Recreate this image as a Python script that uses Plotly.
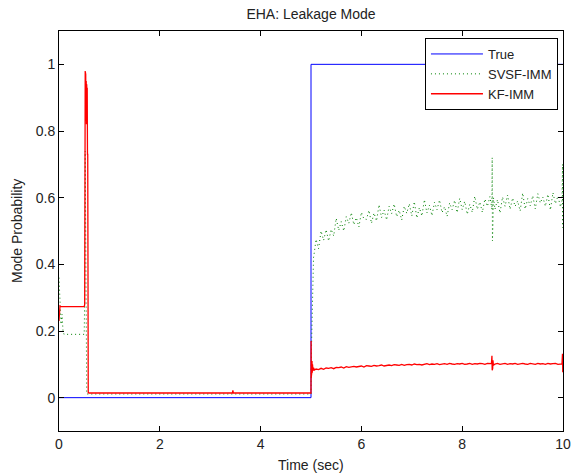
import plotly.graph_objects as go

# ---------------- data ----------------
true_t = [0, 5, 5, 10]
true_y = [0, 0, 1, 1]

kf_t = [0.00, 0.01, 0.02, 0.04, 0.50, 0.51, 0.515, 0.52, 0.525, 0.53, 0.535, 0.54,
        0.545, 0.55, 0.555, 0.56, 0.565, 0.57, 0.575, 0.58, 0.60, 1.0, 2.0, 3.0,
        3.44, 3.45, 3.46, 4.0, 4.99,
        5.00, 5.002, 5.004, 5.006, 5.008, 5.01, 5.015, 5.02, 5.025, 5.03, 5.04,
        5.05, 5.07,
        5.10, 5.15, 5.20, 5.25, 5.30, 5.35, 5.40, 5.45, 5.50, 5.55, 5.60, 5.65,
        5.70, 5.75, 5.80, 5.85, 5.90, 5.95, 6.00, 6.05, 6.10, 6.15, 6.20, 6.25,
        6.30, 6.35, 6.40, 6.45, 6.50, 6.55, 6.60, 6.65, 6.70, 6.75, 6.80, 6.85,
        6.90, 6.95, 7.00, 7.05, 7.10, 7.15, 7.20, 7.25, 7.30, 7.35, 7.40, 7.45,
        7.50, 7.55, 7.60, 7.65, 7.70, 7.75, 7.80, 7.85, 7.90, 7.95, 8.00, 8.05,
        8.10, 8.15, 8.20, 8.25, 8.30, 8.35, 8.40, 8.45, 8.50, 8.55, 8.58, 8.59,
        8.595, 8.60, 8.605, 8.61, 8.62, 8.65, 8.70, 8.75, 8.80, 8.85, 8.90, 8.95,
        9.00, 9.05, 9.10, 9.15, 9.20, 9.25, 9.30, 9.35, 9.40, 9.45, 9.50, 9.55,
        9.60, 9.65, 9.70, 9.75, 9.80, 9.85, 9.90, 9.95, 9.98, 9.99, 9.995, 10.0]
kf_p = [0.23, 0.27, 0.275, 0.273, 0.273, 0.28, 0.60, 0.98, 0.85, 0.97, 0.83, 0.95,
        0.82, 0.94, 0.88, 0.93, 0.73, 0.73, 0.40, 0.015, 0.014, 0.014, 0.014, 0.014,
        0.014, 0.022, 0.014, 0.014, 0.014,
        0.014, 0.17, 0.06, 0.15, 0.07, 0.13, 0.075, 0.11, 0.075, 0.10, 0.08,
        0.09, 0.083,
        0.086, 0.084, 0.088, 0.085, 0.089, 0.088, 0.090, 0.087, 0.091, 0.090, 0.092, 0.089,
        0.093, 0.091, 0.092, 0.094, 0.092, 0.093, 0.095, 0.092, 0.096, 0.095, 0.094, 0.097,
        0.095, 0.096, 0.098, 0.095, 0.097, 0.098, 0.096, 0.099, 0.098, 0.097, 0.100, 0.097,
        0.099, 0.100, 0.098, 0.101, 0.099, 0.100, 0.098, 0.101, 0.102, 0.099, 0.101, 0.100,
        0.102, 0.099, 0.101, 0.102, 0.100, 0.103, 0.101, 0.100, 0.102, 0.101, 0.103, 0.100,
        0.101, 0.103, 0.100, 0.102, 0.101, 0.103, 0.102, 0.100, 0.103, 0.101, 0.102, 0.126,
        0.082, 0.120, 0.088, 0.112, 0.097, 0.101, 0.103, 0.100, 0.102, 0.103, 0.100, 0.102,
        0.101, 0.103, 0.100, 0.102, 0.103, 0.101, 0.100, 0.103, 0.102, 0.100, 0.103, 0.101,
        0.102, 0.100, 0.103, 0.101, 0.102, 0.103, 0.100, 0.102, 0.101, 0.132, 0.076, 0.120]

svsf_t = [0.00, 0.02, 0.04, 0.06, 0.08, 0.10, 0.50, 0.51, 0.52, 0.53, 0.54, 0.55,
          1.0, 2.0, 3.0, 4.0, 5.00,
          5.01, 5.02, 5.03, 5.04, 5.05, 5.07,
          5.10, 5.15, 5.20, 5.25, 5.30, 5.35, 5.40, 5.45, 5.50, 5.55,
          5.60, 5.65, 5.70, 5.75, 5.80, 5.85, 5.90, 5.95, 6.00, 6.05,
          6.10, 6.15, 6.20, 6.25, 6.30, 6.35, 6.40, 6.45, 6.50, 6.55,
          6.60, 6.65, 6.70, 6.75, 6.80, 6.85, 6.90, 6.95, 7.00, 7.05,
          7.10, 7.15, 7.20, 7.25, 7.30, 7.35, 7.40, 7.45, 7.50, 7.55,
          7.60, 7.65, 7.70, 7.75, 7.80, 7.85, 7.90, 7.95, 8.00, 8.05,
          8.10, 8.15, 8.20, 8.25, 8.30, 8.35, 8.40, 8.45, 8.50, 8.55,
          8.59, 8.595, 8.60, 8.605, 8.61, 8.62,
          8.65, 8.70, 8.75, 8.80, 8.85, 8.90, 8.95, 9.00, 9.05,
          9.10, 9.15, 9.20, 9.25, 9.30, 9.35, 9.40, 9.45, 9.50,
          9.55, 9.60, 9.65, 9.70, 9.75, 9.80, 9.85, 9.90, 9.95,
          9.98, 9.99, 9.995, 10.0]
svsf_p = [0.36, 0.30, 0.22, 0.25, 0.20, 0.19, 0.19, 0.30, 0.74, 0.50, 0.20, 0.011,
          0.011, 0.011, 0.011, 0.011, 0.011,
          0.15, 0.25, 0.34, 0.40, 0.42, 0.44,
          0.475, 0.447, 0.500, 0.472, 0.504, 0.470, 0.505, 0.485, 0.538, 0.502,
          0.528, 0.500, 0.543, 0.523, 0.555, 0.519, 0.540, 0.512, 0.556, 0.536,
          0.535, 0.562, 0.523, 0.554, 0.530, 0.579, 0.540, 0.563, 0.533, 0.574,
          0.552, 0.581, 0.543, 0.562, 0.533, 0.574, 0.553, 0.582, 0.545, 0.588,
          0.539, 0.570, 0.545, 0.594, 0.554, 0.577, 0.546, 0.586, 0.564, 0.593,
          0.555, 0.573, 0.544, 0.584, 0.564, 0.592, 0.555, 0.598, 0.564, 0.589,
          0.550, 0.580, 0.556, 0.604, 0.565, 0.587, 0.556, 0.596, 0.574, 0.603,
          0.565, 0.720, 0.470, 0.660, 0.520, 0.600,
          0.565, 0.594, 0.554, 0.602, 0.574, 0.608, 0.565, 0.599, 0.574,
          0.590, 0.560, 0.614, 0.566, 0.597, 0.575, 0.606, 0.566, 0.612,
          0.584, 0.602, 0.574, 0.610, 0.563, 0.615, 0.582, 0.605, 0.572,
          0.590, 0.700, 0.510, 0.640]

x_ticks = [0, 2, 4, 6, 8, 10]
y_ticks = [0, 0.2, 0.4, 0.6, 0.8, 1]
y_tick_text = ["0", "0.2", "0.4", "0.6", "0.8", "1"]

assert len(kf_t) == len(kf_p)
assert len(svsf_t) == len(svsf_p)

# ---------------- figure ----------------
FONT = "Liberation Sans, Arial, sans-serif"
FS = 14
TXT = "#222222"

fig = go.Figure()
fig.add_trace(go.Scatter(x=true_t, y=true_y, mode="lines", name="True",
                         line=dict(color="#0000FF", width=1)))
fig.add_trace(go.Scatter(x=svsf_t, y=svsf_p, mode="lines", name="SVSF-IMM",
                         line=dict(color="#008000", width=1, dash="1px,3px")))
fig.add_trace(go.Scatter(x=kf_t, y=kf_p, mode="lines", name="KF-IMM",
                         line=dict(color="#FF0000", width=1.3)))

axis_common = dict(showline=True, linecolor="black", linewidth=1, mirror="ticks",
                   ticks="inside", ticklen=5, tickcolor="black", showgrid=False,
                   zeroline=False, automargin=False,
                   tickfont=dict(family=FONT, size=FS, color=TXT))

fig.update_layout(
    width=571, height=476,
    margin=dict(l=59, r=8, t=31, b=45),
    paper_bgcolor="white", plot_bgcolor="white",
    font=dict(family=FONT, size=FS, color=TXT),
    title=dict(text="EHA: Leakage Mode", x=0.5, xref="paper", y=1 - 14 / 476,
               yanchor="middle", xanchor="center", automargin=False,
               font=dict(family=FONT, size=FS, color=TXT)),
    xaxis=dict(range=[0, 10], tickvals=x_ticks, ticktext=[str(v) for v in x_ticks],
               **axis_common),
    yaxis=dict(range=[-0.1, 1.1], tickvals=y_ticks, ticktext=y_tick_text,
               **axis_common),
    showlegend=True,
    legend=dict(x=0.99, y=0.9825, xanchor="right", yanchor="top",
                bgcolor="white", bordercolor="black", borderwidth=1,
                font=dict(family=FONT, size=13, color=TXT),
                tracegroupgap=0, itemwidth=52),
    annotations=[
        dict(text="Time (sec)", xref="paper", yref="paper", x=0.5, y=-34 / 400,
             xanchor="center", yanchor="middle", showarrow=False,
             font=dict(family=FONT, size=FS, color=TXT)),
        dict(text="Mode Probability", xref="paper", yref="paper", x=-42 / 504,
             y=0.5, xanchor="center", yanchor="middle", textangle=-90,
             showarrow=False, font=dict(family=FONT, size=FS, color=TXT)),
    ],
)

fig.write_html("out.html", config={"displayModeBar": False},
               post_script="document.body.style.margin='0px';")
